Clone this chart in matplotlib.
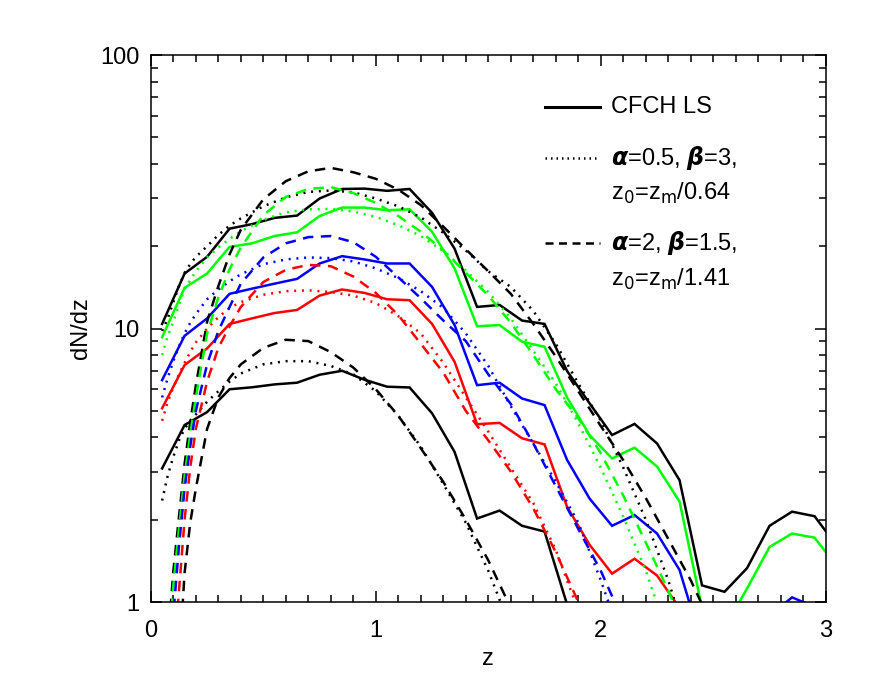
import matplotlib
matplotlib.use("Agg")
import matplotlib.pyplot as plt
from matplotlib.ticker import MultipleLocator, LogLocator, NullFormatter, FixedLocator
from matplotlib.lines import Line2D

plt.rcParams['font.family'] = ['Liberation Sans', 'DejaVu Sans']
plt.rcParams['mathtext.fontset'] = 'dejavusans'

# ---------------- data ----------------
# histogram bin centres (solid lines)
z_bins = [0.05, 0.15, 0.25, 0.35, 0.45, 0.55, 0.65, 0.75, 0.85, 0.95,
          1.05, 1.15, 1.25, 1.35, 1.45, 1.55, 1.65, 1.75, 1.85, 1.95,
          2.05, 2.15, 2.25, 2.35, 2.45, 2.55, 2.65, 2.75, 2.85, 2.95, 3.05]

hist_black_all = [10.4, 15.9, 18.3, 23.2, 24.1, 25.4, 25.9, 29.9, 32.4, 32.5,
                  31.9, 32.4, 26.5, 19.6, 12.0, 12.2, 10.7, 10.4, 7.0, 5.33,
                  4.08, 4.48, 3.80, 2.79, 1.15, 1.09, 1.33, 1.90, 2.14, 2.06, 1.6]
hist_green = [9.3, 14.1, 15.9, 19.9, 20.5, 21.8, 22.5, 25.8, 27.7, 27.7,
              27.1, 27.3, 22.6, 16.6, 10.2, 10.3, 8.95, 8.58, 5.6, 4.08,
              3.35, 3.67, 3.13, 2.33, 0.95, 0.8, 1.12, 1.59, 1.78, 1.72, 1.35]
hist_blue = [6.48, 9.41, 10.9, 13.4, 14.0, 14.6, 15.2, 17.3, 18.4, 17.9,
             17.3, 17.3, 14.2, 10.3, 6.21, 6.34, 5.55, 5.25, 3.31, 2.39,
             1.90, 2.08, 1.78, 1.31, 0.7, 0.6, 0.7, 0.89, 1.04, 0.96, 0.8]
hist_red = [5.11, 7.36, 8.46, 10.4, 10.9, 11.4, 11.7, 13.2, 13.9, 13.5,
            12.8, 12.7, 10.4, 7.56, 4.47, 4.52, 3.97, 3.77, 2.23, 1.62,
            1.27, 1.44, 1.25, 0.95, 0.6, 0.5, 0.5, 0.5, 0.5, 0.5, 0.5]
hist_black_low = [3.08, 4.44, 4.95, 6.0, 6.1, 6.25, 6.34, 6.78, 7.01, 6.5,
                  6.13, 6.09, 4.90, 3.54, 2.02, 2.16, 1.90, 1.81, 0.98, 0.6,
                  0.5, 0.5, 0.5, 0.5, 0.5, 0.5, 0.5, 0.5, 0.5, 0.5, 0.5]

# model curves
z_model = [0.05, 0.075, 0.1, 0.125, 0.15, 0.175, 0.2, 0.25, 0.3, 0.35, 0.4,
           0.5, 0.6, 0.7, 0.8, 0.9, 1.0, 1.1, 1.2, 1.3, 1.4, 1.5, 1.6, 1.7,
           1.8, 1.9, 2.0, 2.1, 2.2, 2.3, 2.4, 2.5]

# alpha=0.5, beta=3 (dotted)
dot_black_all = [9.8, 10.9, 12.5, 14.3, 16.0, 17.2, 18.3, 20.0, 22.0, 23.8, 25.3,
                 28.0, 30.2, 31.6, 32.0, 31.5, 29.9, 28.0, 25.5, 22.4, 19.3, 16.2,
                 14.2, 11.6, 8.8, 6.3, 4.6, 3.1, 2.0, 1.2, 0.65, 0.3]
dot_green = [8.0, 9.4, 10.6, 12.2, 14.0, 15.0, 16.2, 18.2, 19.8, 21.3, 22.7,
             25.0, 26.6, 27.3, 27.4, 26.8, 25.6, 23.9, 21.8, 19.2, 16.3, 13.6,
             10.9, 8.3, 6.3, 4.5, 3.1, 2.05, 1.3, 0.75, 0.4, 0.2]
dot_blue = [5.6, 6.6, 7.6, 8.6, 9.6, 10.5, 11.3, 12.8, 13.9, 14.9, 15.8,
            17.2, 17.9, 18.2, 18.1, 17.6, 16.6, 15.3, 13.7, 11.9, 9.6, 7.3,
            5.2, 3.8, 2.75, 1.95, 1.2, 0.7, 0.4, 0.2, 0.1, 0.05]
dot_red = [4.6, 5.4, 6.1, 6.8, 7.5, 8.2, 8.9, 10.0, 11.0, 11.9, 12.5,
           13.3, 13.7, 13.8, 13.6, 13.2, 12.4, 11.1, 9.6, 7.5, 5.6, 4.2,
           3.1, 2.3, 1.55, 0.93, 0.5, 0.3, 0.15, 0.08, 0.04, 0.02]
dot_black_low = [2.35, 2.9, 3.4, 3.9, 4.3, 4.6, 4.85, 5.4, 5.9, 6.4, 6.85,
                 7.4, 7.6, 7.6, 7.3, 6.8, 5.9, 4.8, 3.7, 2.7, 1.95, 1.3,
                 0.8, 0.45, 0.25, 0.12, 0.06, 0.03, 0.02, 0.01, 0.01, 0.01]

# alpha=2, beta=1.5 (dashed)
dash_black_all = [0.3, 0.7, 1.3, 2.05, 3.2, 4.55, 6.2, 10.6, 14.3, 18.7, 23.0,
                  29.7, 34.6, 37.6, 38.7, 37.3, 35.3, 32.2, 28.3, 23.6, 19.5, 16.2,
                  13.4, 10.4, 7.9, 5.9, 4.4, 3.3, 2.4, 1.7, 1.2, 0.8]
dash_green = [0.25, 0.6, 1.15, 1.85, 2.9, 4.1, 5.6, 9.6, 13.0, 16.5, 19.8,
              26.0, 30.3, 32.4, 32.9, 31.3, 28.8, 25.8, 22.6, 19.3, 16.0, 13.2,
              10.5, 8.0, 6.0, 4.7, 3.5, 2.45, 1.65, 1.1, 0.7, 0.45]
dash_blue = [0.15, 0.4, 0.9, 1.6, 2.6, 3.7, 5.0, 7.4, 9.8, 12.0, 14.6,
             18.2, 20.5, 21.6, 21.8, 20.7, 18.3, 15.4, 12.9, 10.7, 9.0, 6.8,
             5.3, 3.8, 2.65, 1.85, 1.3, 0.85, 0.55, 0.35, 0.2, 0.1]
dash_red = [0.1, 0.25, 0.6, 1.1, 2.0, 3.1, 4.3, 6.4, 8.5, 10.2, 12.0,
            14.8, 16.4, 17.1, 16.9, 15.5, 13.5, 11.2, 8.8, 6.9, 5.0, 3.9,
            3.0, 2.2, 1.52, 1.0, 0.62, 0.35, 0.2, 0.1, 0.05, 0.03]
dash_black_low = [0.02, 0.07, 0.2, 0.6, 1.28, 1.95, 2.6, 4.3, 5.6, 6.6, 7.4,
                  8.5, 9.1, 9.0, 8.2, 7.2, 6.0, 4.8, 3.65, 2.75, 2.0, 1.42,
                  0.95, 0.6, 0.35, 0.2, 0.1, 0.05, 0.03, 0.02, 0.01, 0.01]

colors = ['black', '#00ff00', '#0000ff', '#ff0000', 'black']
hists = [hist_black_all, hist_green, hist_blue, hist_red, hist_black_low]
dots = [dot_black_all, dot_green, dot_blue, dot_red, dot_black_low]
dashes = [dash_black_all, dash_green, dash_blue, dash_red, dash_black_low]

legend_labels = ['CFCH LS',
                 r'$\mathbfit{\alpha}$=0.5, $\mathbfit{\beta}$=3,',
                 r'z$_0$=z$_{\rm m}$/0.64',
                 r'$\mathbfit{\alpha}$=2, $\mathbfit{\beta}$=1.5,',
                 r'z$_0$=z$_{\rm m}$/1.41']

# ---------------- plot ----------------
fig = plt.figure(figsize=(8.72, 6.98), dpi=100)
ax = fig.add_axes([0.173, 0.1375, 0.774, 0.7835])

LW = 1.8
DOT = (0, (0.8, 2.3))
DASH = (0, (4.2, 3.0))

for c, h in zip(colors, hists):
    ax.plot(z_bins, h, color=c, lw=LW, solid_joinstyle='miter')
for c, d in zip(colors, dots):
    ax.plot(z_model, d, color=c, lw=LW, linestyle=DOT)
for c, d in zip(colors, dashes):
    ax.plot(z_model, d, color=c, lw=LW, linestyle=DASH)

ax.set_yscale('log')
ax.set_xlim(0, 3)
ax.set_ylim(1, 100)

ax.xaxis.set_major_locator(FixedLocator([0, 1, 2, 3]))
ax.xaxis.set_minor_locator(MultipleLocator(0.1))
ax.set_xticklabels(['0', '1', '2', '3'])
ax.yaxis.set_major_locator(FixedLocator([1, 10, 100]))
ax.set_yticklabels(['1', '10', '100'])
ax.yaxis.set_minor_locator(LogLocator(base=10, subs=range(2, 10)))
ax.yaxis.set_minor_formatter(NullFormatter())

ax.tick_params(which='both', direction='in', top=True, right=True,
               labelsize=17, width=1.1)
ax.tick_params(which='major', length=8)
ax.tick_params(which='minor', length=4.8)
ax.tick_params(axis='x', which='major', pad=13)
ax.tick_params(axis='y', which='major', pad=8)
for s in ax.spines.values():
    s.set_linewidth(1.1)

ax.set_xlabel('z', fontsize=17, labelpad=4)
ax.set_ylabel('dN/dz', fontsize=17, labelpad=6)

# legend (drawn in axes coordinates)
x0, x1, xt = 0.584, 0.665, 0.682
rows = [0.905, 0.812, 0.748, 0.656, 0.590]
handles = [dict(ls='-'), dict(ls=(0, (0.6, 1.6))), None, dict(ls=(0, (3.2, 2.2))), None]
for lab, yr, hs in zip(legend_labels, rows, handles):
    if hs is not None:
        ax.add_line(Line2D([x0, x1], [yr, yr], transform=ax.transAxes,
                           color='black', lw=2.2 if hs['ls'] == '-' else 1.8,
                           linestyle=hs['ls']))
    ax.text(xt, yr, lab, transform=ax.transAxes, fontsize=17,
            va='center', ha='left')

fig.savefig('out.png', dpi=100)
